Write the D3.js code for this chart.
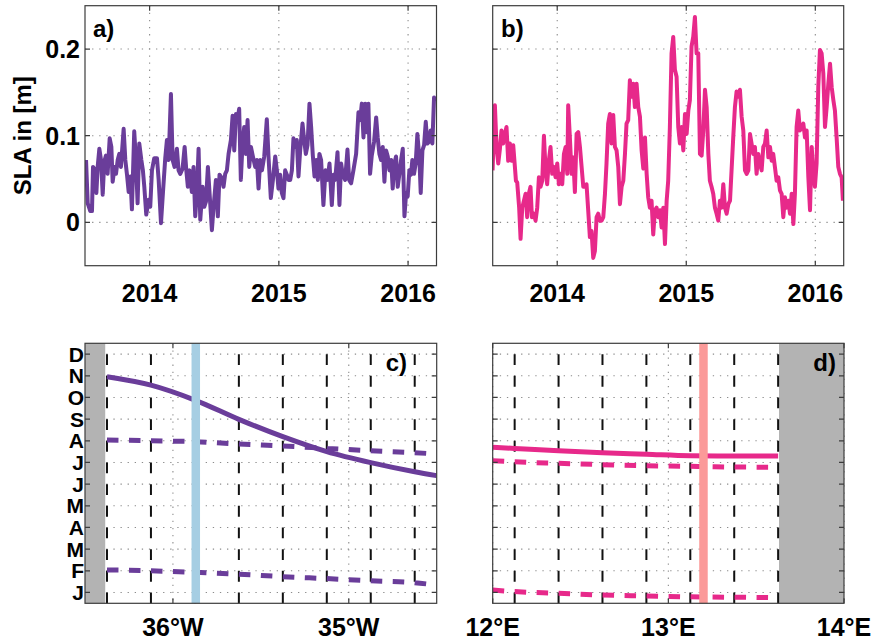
<!DOCTYPE html>
<html>
<head>
<meta charset="utf-8">
<script src="https://cdn.jsdelivr.net/npm/d3@7/dist/d3.min.js"></script>
<style>
body { margin: 0; background: #fff; }
svg text { font-family: "Liberation Sans", Arial, Helvetica, sans-serif; font-weight: bold; fill: #000; }
</style>
</head>
<body>
<div id="chart"></div>
<script>
// time series a) and b): decimal year, SLA in m
var timesA = [2013.508,2013.521,2013.541,2013.554,2013.562,2013.580,2013.588,2013.598,2013.611,2013.624,
  2013.637,2013.649,2013.662,2013.675,2013.691,2013.704,2013.714,2013.729,2013.740,2013.753,
  2013.765,2013.778,2013.799,2013.812,2013.825,2013.838,2013.851,2013.863,2013.881,2013.894,
  2013.907,2013.920,2013.936,2013.948,2013.959,2013.974,2013.992,2014.005,2014.018,2014.036,
  2014.057,2014.070,2014.088,2014.103,2014.121,2014.134,2014.147,2014.165,2014.178,2014.193,
  2014.211,2014.224,2014.237,2014.255,2014.271,2014.284,2014.296,2014.309,2014.327,2014.340,
  2014.353,2014.366,2014.379,2014.392,2014.410,2014.423,2014.436,2014.451,2014.469,2014.482,
  2014.495,2014.513,2014.528,2014.541,2014.559,2014.572,2014.585,2014.598,2014.611,2014.629,
  2014.642,2014.655,2014.668,2014.680,2014.693,2014.706,2014.719,2014.732,2014.745,2014.758,
  2014.771,2014.784,2014.799,2014.817,2014.830,2014.843,2014.856,2014.869,2014.887,2014.907,
  2014.920,2014.938,2014.954,2014.972,2014.985,2014.997,2015.010,2015.023,2015.036,2015.049,
  2015.062,2015.075,2015.088,2015.101,2015.113,2015.126,2015.139,2015.152,2015.165,2015.183,
  2015.196,2015.209,2015.222,2015.237,2015.250,2015.263,2015.276,2015.289,2015.302,2015.314,
  2015.327,2015.345,2015.361,2015.376,2015.392,2015.410,2015.423,2015.436,2015.454,2015.469,
  2015.482,2015.495,2015.513,2015.531,2015.544,2015.559,2015.577,2015.598,2015.616,2015.629,
  2015.642,2015.655,2015.668,2015.680,2015.693,2015.706,2015.719,2015.737,2015.753,2015.765,
  2015.778,2015.791,2015.804,2015.817,2015.830,2015.843,2015.856,2015.869,2015.881,2015.894,
  2015.907,2015.920,2015.933,2015.946,2015.959,2015.972,2015.985,2015.997,2016.010,2016.023,
  2016.033,2016.046,2016.059,2016.072,2016.088,2016.098,2016.111,2016.124,2016.137,2016.149,
  2016.162,2016.175,2016.188,2016.201,2016.211];
var slaA = [0.072,0.022,0.013,0.013,0.064,0.060,0.034,0.064,0.085,0.072,
  0.032,0.070,0.077,0.056,0.097,0.087,0.047,0.064,0.056,0.072,
  0.079,0.064,0.108,0.072,0.055,0.035,0.053,0.015,0.105,0.072,
  0.022,0.091,0.072,0.060,0.041,0.009,0.026,0.018,0.060,0.074,
  0.074,0.049,-0.001,0.034,0.074,0.095,0.072,0.148,0.072,0.064,
  0.085,0.060,0.056,0.062,0.087,0.060,0.041,0.060,0.035,0.064,
  0.007,0.034,0.085,0.003,0.041,0.018,0.024,0.064,0.022,-0.009,
  0.018,0.049,0.007,0.055,0.051,0.041,0.056,0.060,0.079,0.095,
  0.123,0.083,0.125,0.119,0.131,0.049,0.091,0.110,0.079,0.118,
  0.064,0.087,0.076,0.064,0.072,0.039,0.072,0.060,0.076,0.119,
  0.076,0.028,0.049,0.076,0.060,0.039,0.055,0.034,0.028,0.060,
  0.055,0.049,0.049,0.060,0.097,0.087,0.095,0.053,0.083,0.114,
  0.095,0.079,0.089,0.137,0.110,0.077,0.053,0.072,0.049,0.079,
  0.072,0.020,0.060,0.049,0.068,0.020,0.055,0.049,0.081,0.020,
  0.068,0.055,0.049,0.084,0.049,0.045,0.060,0.079,0.127,0.118,
  0.137,0.098,0.137,0.104,0.137,0.056,0.077,0.093,0.121,0.098,
  0.079,0.072,0.087,0.047,0.083,0.076,0.060,0.072,0.039,0.068,
  0.076,0.041,0.056,0.072,0.085,0.007,0.034,0.030,0.060,0.055,
  0.072,0.056,0.068,0.102,0.072,0.034,0.083,0.089,0.116,0.091,
  0.093,0.106,0.091,0.144,0.140];

var timesB = [2013.499,2013.517,2013.530,2013.543,2013.556,2013.568,2013.581,2013.594,2013.607,2013.620,
  2013.633,2013.646,2013.659,2013.672,2013.680,2013.690,2013.705,2013.716,2013.729,2013.742,
  2013.755,2013.767,2013.780,2013.793,2013.804,2013.819,2013.832,2013.845,2013.858,2013.871,
  2013.884,2013.897,2013.910,2013.922,2013.935,2013.948,2013.961,2013.974,2013.987,2014.000,
  2014.013,2014.026,2014.039,2014.052,2014.065,2014.078,2014.085,2014.098,2014.111,2014.124,
  2014.137,2014.150,2014.163,2014.176,2014.189,2014.202,2014.214,2014.227,2014.240,2014.253,
  2014.266,2014.279,2014.292,2014.305,2014.318,2014.331,2014.344,2014.357,2014.370,2014.382,
  2014.395,2014.408,2014.421,2014.434,2014.447,2014.460,2014.473,2014.486,2014.499,2014.512,
  2014.525,2014.537,2014.550,2014.563,2014.576,2014.589,2014.602,2014.615,2014.628,2014.641,
  2014.654,2014.667,2014.680,2014.693,2014.705,2014.718,2014.731,2014.744,2014.757,2014.770,
  2014.783,2014.796,2014.809,2014.822,2014.835,2014.848,2014.860,2014.873,2014.886,2014.899,
  2014.912,2014.925,2014.938,2014.951,2014.964,2014.977,2014.990,2015.003,2015.016,2015.028,
  2015.041,2015.054,2015.067,2015.080,2015.093,2015.106,2015.119,2015.132,2015.145,2015.158,
  2015.171,2015.183,2015.196,2015.209,2015.222,2015.235,2015.248,2015.261,2015.274,2015.287,
  2015.300,2015.313,2015.326,2015.339,2015.351,2015.364,2015.377,2015.390,2015.403,2015.416,
  2015.429,2015.442,2015.455,2015.468,2015.481,2015.494,2015.506,2015.519,2015.532,2015.545,
  2015.558,2015.571,2015.584,2015.597,2015.610,2015.623,2015.636,2015.649,2015.662,2015.674,
  2015.687,2015.700,2015.713,2015.726,2015.739,2015.752,2015.765,2015.778,2015.791,2015.804,
  2015.817,2015.830,2015.842,2015.855,2015.868,2015.881,2015.894,2015.907,2015.920,2015.933,
  2015.946,2015.959,2015.972,2015.985,2015.997,2016.010,2016.023,2016.036,2016.049,2016.062,
  2016.075,2016.088,2016.101,2016.114,2016.127,2016.140,2016.152,2016.165,2016.178,2016.191,
  2016.204,2016.214];
var slaB = [0.060,0.135,0.087,0.068,0.085,0.106,0.091,0.102,0.110,0.071,
  0.091,0.071,0.089,0.064,0.048,0.046,0.017,-0.019,0.017,0.025,
  0.033,0.006,0.033,0.041,0.006,0.010,0.002,0.017,0.052,0.041,
  0.048,0.100,0.060,0.044,0.071,0.087,0.056,0.064,0.052,0.068,
  0.044,0.056,0.044,0.079,0.087,0.056,0.135,0.098,0.056,0.075,
  0.035,0.102,0.104,0.087,0.064,0.041,0.041,0.044,0.014,-0.017,
  -0.010,-0.041,-0.033,0.006,0.010,0.002,0.002,0.006,0.033,0.068,
  0.114,0.125,0.091,0.124,0.087,0.083,0.064,0.021,0.041,0.048,
  0.079,0.114,0.118,0.164,0.145,0.160,0.133,0.160,0.133,0.122,
  0.083,0.062,0.098,0.056,0.029,0.017,0.025,-0.014,0.014,0.017,
  0.006,0.014,-0.006,0.017,-0.025,0.025,0.048,0.110,0.195,0.214,
  0.176,0.168,0.110,0.091,0.110,0.083,0.125,0.102,0.129,0.141,
  0.203,0.214,0.237,0.195,0.195,0.079,0.077,0.106,0.153,0.133,
  0.079,0.048,0.041,0.033,0.017,0.010,0.002,0.025,0.017,0.044,
  0.017,0.010,0.021,0.025,0.060,0.098,0.133,0.151,0.145,0.153,
  0.122,0.106,0.060,0.056,0.060,0.102,0.091,0.079,0.087,0.056,
  0.079,0.068,0.060,0.087,0.091,0.106,0.075,0.087,0.071,0.079,
  0.064,0.048,0.052,0.037,0.033,0.006,0.029,0.017,0.025,0.010,
  0.033,-0.002,0.033,0.110,0.129,0.106,0.110,0.114,0.098,0.106,
  0.052,0.014,0.087,0.056,0.041,0.068,0.156,0.199,0.195,0.172,
  0.110,0.133,0.160,0.183,0.156,0.141,0.129,0.098,0.064,0.056,
  0.052,0.025];

var yearTicks = [2014, 2015, 2016];
var slaTicks = [0, 0.1, 0.2];

// c) and d): month of year (J = 1 ... D = 12) against longitude
var monthLabels = ["J", "F", "M", "A", "M", "J", "J", "A", "S", "O", "N", "D"];
var monthTicks = [1, 2, 3, 4, 5, 6, 7, 8, 9, 10, 11, 12];

var lonC = [-36.375, -36.125, -35.875, -35.625, -35.375, -35.125, -34.875, -34.625, -34.5];
var solidC = [10.96, 10.57, 9.88, 8.99, 8.19, 7.50, 6.99, 6.57, 6.39];
var dashUpC = [8.04, 8.00, 7.96, 7.85, 7.76, 7.65, 7.54, 7.45, 7.39];
var dashLowC = [2.04, 2.00, 1.93, 1.84, 1.73, 1.64, 1.54, 1.45, 1.34];

var lonD = [12.0, 12.125, 12.375, 12.625, 12.875, 13.125, 13.375, 13.625];
var solidD = [7.70, 7.65, 7.54, 7.45, 7.38, 7.31, 7.30, 7.30];
var dashUpD = [7.08, 7.03, 6.96, 6.90, 6.85, 6.82, 6.79, 6.78];
var dashLowD = [1.11, 1.04, 0.96, 0.88, 0.84, 0.80, 0.78, 0.76];

var gridLonC = [-36.375, -36.125, -35.875, -35.625, -35.375, -35.125, -34.875, -34.625];
var gridLonD = [12.125, 12.375, 12.625, 12.875, 13.125, 13.375, 13.625];
var lonTicksC = [-36, -35];
var lonTicksD = [12, 13, 14];
var landC = [-36.5, -36.385];
var landD = [13.63, 14];
var markC = -35.87;
var markD = 13.2;

var purple = "#6a3d9a", pink = "#e7298a";

var svg = d3.select("#chart").append("svg")
    .attr("width", 874)
    .attr("height", 641);

var yTop = d3.scaleLinear().domain([-0.05, 0.25]).range([265.7, 5.7]);
var xA = d3.scaleLinear().domain([2013.5, 2016.22]).range([85, 436.5]);
var xB = d3.scaleLinear().domain([2013.5, 2016.22]).range([492.7, 843.7]);
var yMonth = d3.scaleLinear().domain([0.5, 12.5]).range([603.3, 343.3]);
var xC = d3.scaleLinear().domain([-36.5, -34.5]).range([85, 436.7]);
var xD = d3.scaleLinear().domain([12, 14]).range([492.7, 844]);

function box(x, y) {
  return {x0: x.range()[0], x1: x.range()[1], y0: y.range()[1], y1: y.range()[0]};
}

function clip(id, x, y) {
  var b = box(x, y);
  svg.append("clipPath").attr("id", id).append("rect")
    .attr("x", b.x0).attr("y", b.y0).attr("width", b.x1 - b.x0).attr("height", b.y1 - b.y0);
}

// dotted grid
function grid(x, y, xTicks, yTicks) {
  var b = box(x, y);
  var g = svg.append("g").attr("stroke", "#8c8c8c").attr("stroke-width", 1.1)
    .attr("stroke-dasharray", "1.3,5.8");
  g.selectAll(".gx").data(xTicks).enter().append("line")
    .attr("x1", d => x(d)).attr("x2", d => x(d)).attr("y1", b.y0).attr("y2", b.y1);
  g.selectAll(".gy").data(yTicks).enter().append("line")
    .attr("x1", b.x0).attr("x2", b.x1).attr("y1", d => y(d)).attr("y2", d => y(d));
}

// box with inward ticks on all four sides
function frame(x, y, xTicks, yTicks) {
  var b = box(x, y), t = 5;
  var g = svg.append("g").attr("stroke", "#3c3c3c").attr("stroke-width", 1.2).attr("fill", "none");
  g.selectAll(".tx").data(xTicks).enter().append("path")
    .attr("d", d => "M" + x(d) + "," + b.y1 + "v" + (-t) + "M" + x(d) + "," + b.y0 + "v" + t);
  g.selectAll(".ty").data(yTicks).enter().append("path")
    .attr("d", d => "M" + b.x0 + "," + y(d) + "h" + t + "M" + b.x1 + "," + y(d) + "h" + (-t));
  g.append("rect").attr("x", b.x0).attr("y", b.y0)
    .attr("width", b.x1 - b.x0).attr("height", b.y1 - b.y0);
}

function xLabels(x, ticks, fmt, ty) {
  svg.append("g").selectAll("text").data(ticks).enter().append("text")
    .attr("x", d => x(d)).attr("y", ty)
    .attr("text-anchor", "middle").attr("font-size", 25)
    .text(fmt);
}

// ---- a) and b)
clip("clipA", xA, yTop);
clip("clipB", xB, yTop);
grid(xA, yTop, yearTicks, slaTicks);
grid(xB, yTop, yearTicks, slaTicks);

var lineA = d3.line().x((d, i) => xA(timesA[i])).y(d => yTop(d));
var lineB = d3.line().x((d, i) => xB(timesB[i])).y(d => yTop(d));

svg.append("path").datum(slaA).attr("clip-path", "url(#clipA)")
  .attr("d", lineA).attr("fill", "none").attr("stroke", purple)
  .attr("stroke-width", 4).attr("stroke-linejoin", "round");
svg.append("path").datum(slaB).attr("clip-path", "url(#clipB)")
  .attr("d", lineB).attr("fill", "none").attr("stroke", pink)
  .attr("stroke-width", 4).attr("stroke-linejoin", "round");

frame(xA, yTop, yearTicks, slaTicks);
frame(xB, yTop, yearTicks, slaTicks);

xLabels(xA, yearTicks, d => d, 302);
xLabels(xB, yearTicks, d => d, 302);

svg.append("g").selectAll("text").data(slaTicks).enter().append("text")
  .attr("x", 80).attr("y", d => yTop(d)).attr("dy", "0.36em")
  .attr("text-anchor", "end").attr("font-size", 25)
  .text(d => d === 0 ? "0" : d3.format(".1f")(d));

svg.append("text")
  .attr("transform", "translate(31," + yTop(0.1) + ") rotate(-90)")
  .attr("text-anchor", "middle").attr("font-size", 24)
  .text("SLA in [m]");

svg.append("text").attr("x", 93).attr("y", 37).attr("font-size", 24).text("a)");
svg.append("text").attr("x", 501).attr("y", 37).attr("font-size", 24).text("b)");

// ---- c) and d)
clip("clipC", xC, yMonth);
clip("clipD", xD, yMonth);
grid(xC, yMonth, lonTicksC, monthTicks);
grid(xD, yMonth, lonTicksD, monthTicks);

function land(x, range) {
  svg.append("rect")
    .attr("x", x(range[0])).attr("y", yMonth.range()[1])
    .attr("width", x(range[1]) - x(range[0]))
    .attr("height", yMonth.range()[0] - yMonth.range()[1])
    .attr("fill", "#b3b3b3");
}
land(xC, landC);
land(xD, landD);

// black dashed lines on the model grid, one dash per half month
var halfMonth = yMonth(0.5) - yMonth(1);
function gridDashes(x, lons) {
  svg.append("g").selectAll("line").data(lons).enter().append("line")
    .attr("x1", d => x(d)).attr("x2", d => x(d))
    .attr("y1", yMonth(0.5)).attr("y2", yMonth(12.5))
    .attr("stroke", "#111").attr("stroke-width", 2)
    .attr("stroke-dasharray", halfMonth + "," + halfMonth);
}
gridDashes(xC, gridLonC);
gridDashes(xD, gridLonD);

function monthLine(x, lons, vals, color, clipId, dashed) {
  var line = d3.line().x((d, i) => x(lons[i])).y(d => yMonth(d)).curve(d3.curveMonotoneX);
  svg.append("path").datum(vals).attr("clip-path", "url(#" + clipId + ")")
    .attr("d", line).attr("fill", "none").attr("stroke", color)
    .attr("stroke-width", 5)
    .attr("stroke-dasharray", dashed ? "11.5,10.5" : null);
}
monthLine(xC, lonC, solidC, purple, "clipC", false);
monthLine(xC, lonC, dashUpC, purple, "clipC", true);
monthLine(xC, lonC, dashLowC, purple, "clipC", true);
monthLine(xD, lonD, solidD, pink, "clipD", false);
monthLine(xD, lonD, dashUpD, pink, "clipD", true);
monthLine(xD, lonD, dashLowD, pink, "clipD", true);

// mooring positions
function marker(x, lon, color) {
  svg.append("line")
    .attr("x1", x(lon)).attr("x2", x(lon))
    .attr("y1", yMonth.range()[1]).attr("y2", yMonth.range()[0])
    .attr("stroke", color).attr("stroke-width", 8.5);
}
marker(xC, markC, "#a6cee3");
marker(xD, markD, "#fb9a99");

frame(xC, yMonth, lonTicksC, monthTicks);
frame(xD, yMonth, lonTicksD, monthTicks);

xLabels(xC, lonTicksC, d => Math.abs(d) + "\u00b0W", 636);
xLabels(xD, lonTicksD, d => d + "\u00b0E", 636);

svg.append("g").selectAll("text").data(monthTicks).enter().append("text")
  .attr("x", 84).attr("y", d => yMonth(d)).attr("dy", "0.36em")
  .attr("text-anchor", "end").attr("font-size", 21)
  .text((d, i) => monthLabels[i]);

svg.append("text").attr("x", 407).attr("y", 371).attr("text-anchor", "end").attr("font-size", 24).text("c)");
svg.append("text").attr("x", 836).attr("y", 371).attr("text-anchor", "end").attr("font-size", 24).text("d)");
</script>
</body>
</html>
